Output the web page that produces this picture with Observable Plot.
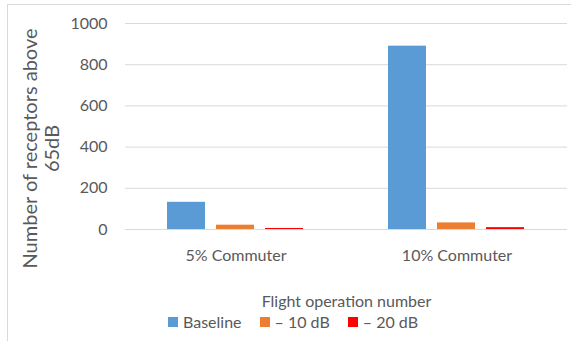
<!DOCTYPE html>
<html>
<head>
<meta charset="utf-8">
<script src="https://cdn.jsdelivr.net/npm/d3@7"></script>
<script src="https://cdn.jsdelivr.net/npm/@observablehq/plot@0.6"></script>
<style>
  html, body { margin: 0; padding: 0; background: #fff; }
  #frame {
    position: absolute; left: 7px; top: 4px; width: 564px; height: 337px;
    border-left: 1px solid #d9d9d9; border-top: 1px solid #d9d9d9;
    font-family: Lato, sans-serif; color: #595959;
  }
  #chart svg { display: block; }
  .lg-swatches { font-family: Lato, sans-serif; font-size: 16px; color: #595959; margin: 0; }
  .lg-swatches-wrap { min-height: 18px; padding-left: 160px; margin-top: -3px; }
  .lg-swatch { margin-right: 18px; }
  .lg-swatch > svg { margin-right: 5px; }
</style>
</head>
<body>
<div id="frame">
  <div id="chart"></div>
  <div id="legend"></div>
</div>
<script>
// Flight scenarios and noise-reduction cases
const categories = ["5% Commuter", "10% Commuter"];
const series = ["Baseline", "– 10 dB", "– 20 dB"];
const colors = ["#5B9BD5", "#ED7D31", "#FF0000"];

// Number of receptors above 65 dB, per scenario
const baseline = [132, 890];
const minus10 = [21, 32];
const minus20 = [5, 9];

const yTicks = [0, 200, 400, 600, 800, 1000];
const yTitle = "Number of receptors above\n65dB";
const xTitle = "Flight operation number";

const valuesBySeries = [baseline, minus10, minus20];
const data = [];
categories.forEach((c, i) => {
  series.forEach((s, j) => data.push({category: c, series: s, value: valuesBySeries[j][i]}));
});

const chart = Plot.plot({
  width: 563,
  height: 310,
  marginTop: 18,
  marginBottom: 86,
  marginLeft: 117,
  marginRight: 4,
  style: {fontFamily: "Lato, sans-serif", fontSize: "16px", color: "#595959", background: "#fff"},
  fx: {domain: categories, padding: 0},
  x: {domain: series, paddingInner: 0.224, paddingOuter: 0.867, axis: null},
  y: {domain: [0, 1000]},
  color: {domain: series, range: colors},
  marks: [
    Plot.gridY(yTicks, {stroke: "#d9d9d9", strokeOpacity: 1, strokeWidth: 1}),
    Plot.barY(data, {fx: "category", x: "series", y: "value", fill: "series"}),
    Plot.axisY({
      ticks: yTicks, tickFormat: d3.format("d"), tickSize: 0, tickPadding: 18,
      fontSize: 16, color: "#595959", label: null
    }),
    Plot.axisFx({
      anchor: "bottom", tickSize: 0, tickPadding: 20, fontSize: 16, color: "#595959",
      label: xTitle, labelAnchor: "center", labelOffset: 77
    }),
    Plot.text([yTitle], {
      text: d => d, frameAnchor: "left", facetAnchor: "left", rotate: -90,
      textAnchor: "middle", dx: -85, dy: 22, fontSize: 20, lineHeight: 1.1,
      lineAnchor: "middle", fill: "#595959"
    })
  ]
});
document.getElementById("chart").append(chart);

const legend = Plot.legend({
  color: {type: "ordinal", domain: series, range: colors},
  swatchSize: 10,
  className: "lg"
});
document.getElementById("legend").append(legend);
</script>
</body>
</html>
